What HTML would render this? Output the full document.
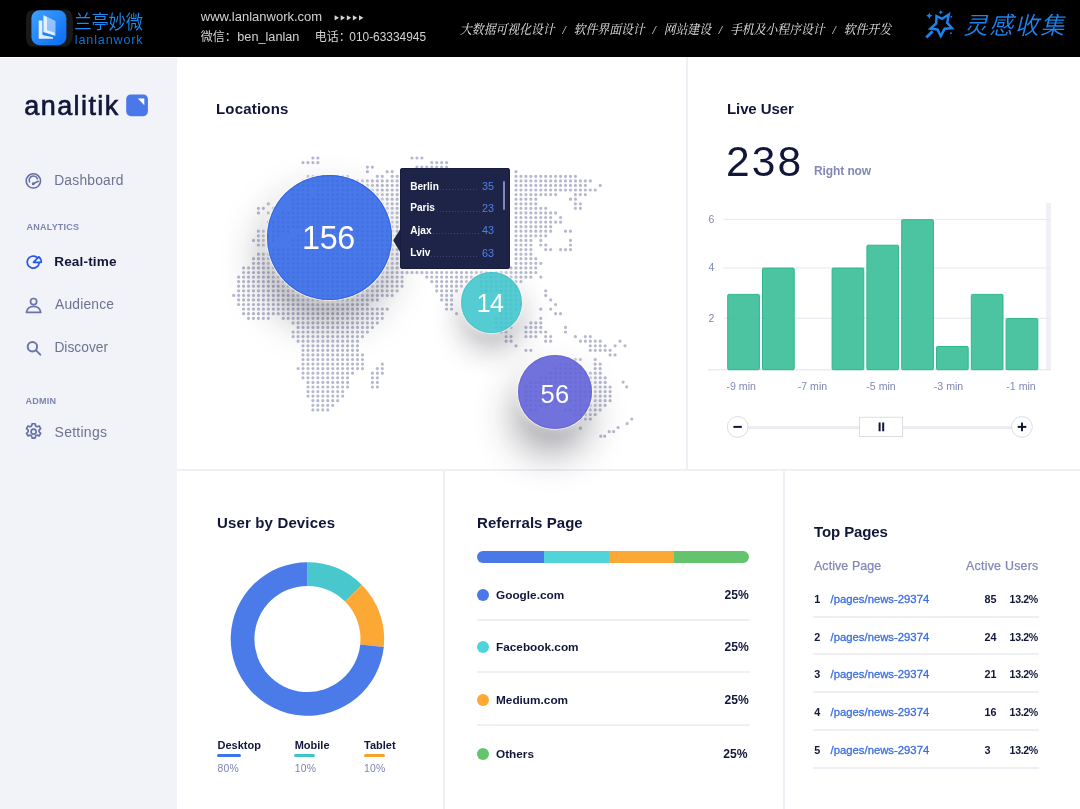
<!DOCTYPE html>
<html lang="en">
<head>
<meta charset="utf-8">
<title>analitik – Real-time</title>
<style>
*{box-sizing:border-box;margin:0;padding:0}
html,body{width:1080px;height:809px;overflow:hidden;background:#fff}
body{position:relative;font-family:"Liberation Sans","Noto Sans CJK SC",sans-serif;color:#12173a;-webkit-font-smoothing:antialiased}
.abs{position:absolute}
.t{position:absolute;white-space:nowrap;line-height:1}
/* header */
#hdr{position:absolute;left:0;top:0;width:1080px;height:57px;background:#000}
#hdr .t{color:#d2d3d6}
/* sidebar */
#side{position:absolute;left:0;top:58px;width:177px;height:751px;background:#f1f3f8}
.nav{color:#6e7391;font-size:13.8px}
.sec{color:#7c84b2;font-size:9px;font-weight:bold;letter-spacing:.22px}
/* dividers */
.ln{position:absolute;background:#eef0f6}
.h2{font-weight:bold;font-size:15px;color:#12173a;letter-spacing:-.1px}
</style>
</head>
<body>

<!-- ================= HEADER ================= -->
<div id="hdr">
  <svg class="abs" style="left:24px;top:4px" width="52" height="48" viewBox="24 4 52 48">
    <defs>
      <linearGradient id="lg1" x1="0" y1="0" x2="1" y2="1"><stop offset="0" stop-color="#3fa2ff"/><stop offset="1" stop-color="#0b6af0"/></linearGradient>
    </defs>
    <path d="M30 10.500 Q26 12 26 20 V36 Q26 45 31 46.500 H66 Q73 44 73 34 V22 Q73 11 67 9.600 Z" fill="#19191b"/>
    <rect x="31.400" y="10.200" width="35" height="35" rx="8" fill="url(#lg1)"/>
    <path d="M43.500 15 L55.500 21.100 L55.500 36.100 L43.500 31.900 Z" fill="#fff" opacity=".5"/>
    <path d="M38.700 20.500 L42.400 20.500 L42.400 35 L53 37.200 L53 38.800 L38.700 38.800 Z" fill="#fff" opacity=".88"/>
    <path d="M43.500 15.500 L47 17.200 L47 30.200 L54.500 32.600 L54.500 35.600 L43.500 32 Z" fill="#fff" opacity=".75"/>
  </svg>
  <div class="t" style="left:74.300px;top:13.500px;font-size:17.400px;color:#1c8cf5;letter-spacing:-.25px;font-weight:350;transform:scaleY(1.1);transform-origin:50% 50%">兰亭妙微</div>
  <div class="t" style="left:74.800px;top:34.300px;font-size:12.600px;color:#1272d4;letter-spacing:.85px">lanlanwork</div>

  <div class="t" style="left:200.8px;top:10.2px;font-size:13px">www.lanlanwork.com</div>
  <svg class="abs" style="left:330px;top:12px" width="40" height="12" viewBox="330 12 40 12" fill="#d4d4d4"><path d="M334.6 15.2 l4.4 2.6 l-4.4 2.6 z"/><path d="M340.7 15.2 l4.4 2.6 l-4.4 2.6 z"/><path d="M346.8 15.2 l4.4 2.6 l-4.4 2.6 z"/><path d="M352.9 15.2 l4.4 2.6 l-4.4 2.6 z"/><path d="M359.0 15.2 l4.4 2.6 l-4.4 2.6 z"/></svg>
  <div class="t" style="left:200.8px;top:31.1px;font-size:12px">微信：</div>
  <div class="t" style="left:237.3px;top:30.9px;font-size:12.7px">ben_lanlan</div>
  <div class="t" style="left:314.7px;top:31.1px;font-size:12px">电话：</div>
  <div class="t" style="left:349.3px;top:31.6px;font-size:11.9px">010-63334945</div>

  <div class="t" id="slogan" style="left:460.400px;top:22.700px;font-size:13.300px;font-style:italic;font-family:'Liberation Serif','Noto Serif CJK SC',serif;color:#e4e4e4;word-spacing:5.500px;transform:scaleX(.89);transform-origin:0 50%">大数据可视化设计 / 软件界面设计 / 网站建设 / 手机及小程序设计 / 软件开发</div>

  <svg class="abs" style="left:920px;top:6px" width="38" height="36" viewBox="920 6 38 36">
    <path d="M936.5 16 L942 18.8 L948.8 14.5 L947.2 22.8 L952 28.2 L944.6 28.8 L940.8 36 L937.6 29.6 L930.4 28.6 L936.2 23.4 Z" fill="none" stroke="#1a84f0" stroke-width="2.5" stroke-linejoin="miter"/>
    <path d="M932.6 31.2 L926.3 37.6" stroke="#1a84f0" stroke-width="2.8"/>
    <path d="M929.3 12.4 l1 2.3 l2.300 1 l-2.300 1 l-1 2.300 l-1 -2.300 l-2.300 -1 l2.300 -1 z" fill="#1a84f0"/>
    <path d="M940.8 10 l.7 1.500 l1.500 .7 l-1.500 .7 l-.7 1.500 l-.7 -1.500 l-1.500 -.7 l1.500 -.7 z" fill="#1a84f0"/>
    <circle cx="951.3" cy="16.8" r=".9" fill="#1a84f0"/><circle cx="951" cy="33.200" r=".9" fill="#1a84f0"/>
  </svg>
  <div class="t" style="left:963.5px;top:14px;font-size:24px;font-style:italic;color:#1a84f0;font-weight:350;letter-spacing:1.6px">灵感收集</div>
</div>

<!-- ================= SIDEBAR ================= -->
<div id="side"></div>
<div class="t" style="left:24.300px;top:92.700px;font-size:27px;color:#12173a;letter-spacing:1.42px;-webkit-text-stroke:.65px #12173a">analitik</div>
<svg class="abs" style="left:126px;top:94px" width="23" height="23" viewBox="0 0 23 23">
  <rect x=".2" y=".5" width="21.700" height="21.700" rx="4.600" fill="#4a78e8"/>
  <path d="M11.900 4.600 H18.300 V11.300 Z" fill="#fff"/>
</svg>

<!-- nav -->
<svg class="abs" style="left:24px;top:171px" width="20" height="20" viewBox="24 171 20 20" fill="none" stroke="#666fa5" stroke-width="1.600">
  <circle cx="33.350" cy="180.900" r="7.150"/>
  <path d="M29.500 181.800 A4 4 0 0 1 37.400 178.700" stroke-linecap="round"/>
  <path d="M33.300 183.700 L38.200 181.300" stroke-linecap="round"/>
  <circle cx="33.200" cy="183.750" r="1.500" fill="#666fa5" stroke="none"/>
</svg>
<div class="t nav" style="left:54.200px;top:173.900px;letter-spacing:.22px">Dashboard</div>

<div class="t sec" style="left:26.600px;top:223px">ANALYTICS</div>
<svg class="abs" style="left:24px;top:252px" width="20" height="20" viewBox="24 252 20 20" fill="none" stroke="#2458e6" stroke-width="1.700" stroke-linejoin="round" stroke-linecap="round">
  <path d="M36.900 257.300 A6.050 6.050 0 1 0 39.250 262.600"/>
  <path d="M33.500 262.300 L38.600 256.800 A6.600 6.600 0 0 1 41.300 262.300 Z"/>
</svg>
<div class="t nav" style="left:54.200px;top:255px;color:#12173a;font-weight:bold;font-size:13.600px;letter-spacing:.15px">Real-time</div>

<svg class="abs" style="left:24px;top:296px" width="20" height="20" viewBox="24 296 20 20" fill="none" stroke="#6b74a8" stroke-width="1.700" stroke-linejoin="round">
  <circle cx="33.600" cy="301.600" r="3.100"/>
  <path d="M26.400 312.300 C27.200 308 30 306.400 33.600 306.400 C37.200 306.400 40 308 40.800 312.300 Z"/>
</svg>
<div class="t nav" style="left:55px;top:297.800px;letter-spacing:.2px">Audience</div>

<svg class="abs" style="left:24px;top:338px" width="20" height="20" viewBox="24 338 20 20" fill="none" stroke="#6b74a8" stroke-width="2" stroke-linecap="round">
  <circle cx="32.400" cy="346.800" r="4.700"/>
  <path d="M36 350.400 L40.300 354.600"/>
</svg>
<div class="t nav" style="left:54.400px;top:340.500px">Discover</div>

<div class="t sec" style="left:25.600px;top:397.300px">ADMIN</div>
<svg class="abs" style="left:23px;top:421px" width="22" height="22" viewBox="0 0 22 22" fill="none" stroke="#666fa5" stroke-width="1.700" stroke-linejoin="round">
  <g transform="translate(.6 .7) scale(.8333)">
  <circle cx="12" cy="12" r="3" stroke-width="2"/>
  <path stroke-width="2" d="M10.200 2.500 h3.600 l.6 2.700 l1.700 .9 l2.600 -.9 l1.800 3.100 l-2 1.900 v1.800 l2 1.900 l-1.800 3.100 l-2.600 -.9 l-1.700 .9 l-.6 2.700 h-3.600 l-.6 -2.700 l-1.700 -.9 l-2.600 .9 l-1.800 -3.100 l2 -1.900 v-1.800 l-2 -1.900 l1.800 -3.100 l2.600 .9 l1.700 -.9 z"/>
  </g>
</svg>
<div class="t nav" style="left:54.600px;top:425.300px;font-size:14px;letter-spacing:.25px">Settings</div>

<!-- ================= DIVIDERS ================= -->
<div class="ln" style="left:686px;top:57px;width:2px;height:413px"></div>
<div class="ln" style="left:177px;top:469px;width:903px;height:2px"></div>
<div class="ln" style="left:443px;top:470px;width:2px;height:339px"></div>
<div class="ln" style="left:783px;top:470px;width:2px;height:339px"></div>

<!-- ================= LOCATIONS ================= -->
<div class="t h2" style="left:216px;top:101px;letter-spacing:.2px">Locations</div>
<!--MAPSTART-->
<svg class="abs" style="left:180px;top:140px" width="506" height="328" viewBox="180 140 506 328">
<path d="M312.9 158.0h4.96M412.0 158.0h9.92M303.0 162.6h14.87M431.8 162.6h14.87M367.4 167.1h4.96M416.9 167.1h29.73M367.4 171.7h0.01M387.2 171.7h4.96M516.0 171.7h0.01M308.0 176.3h39.63M377.3 176.3h4.96M392.2 176.3h4.96M516.0 176.3h59.45M303.0 180.9h94.12M516.0 180.9h74.31M298.1 185.4h99.07M516.0 185.4h69.35M600.2 185.4h0.01M293.1 190.0h14.87M317.9 190.0h79.26M516.0 190.0h79.26M293.1 194.6h14.87M317.9 194.6h79.26M516.0 194.6h39.63M575.4 194.6h9.92M293.1 199.2h104.02M516.0 199.2h19.82M570.5 199.2h4.96M268.3 203.8h0.01M293.1 203.8h104.02M516.0 203.8h19.82M575.4 203.8h4.96M258.4 208.3h4.96M273.3 208.3h0.01M293.1 208.3h104.02M516.0 208.3h29.73M575.4 208.3h4.96M258.4 212.9h0.01M268.3 212.9h0.01M283.2 212.9h113.93M516.0 212.9h39.63M278.2 217.5h118.88M516.0 217.5h34.68M560.6 217.5h0.01M268.3 222.1h128.79M516.0 222.1h44.59M273.3 226.7h123.84M516.0 226.7h34.68M258.4 231.2h4.96M273.3 231.2h14.87M303.0 231.2h94.12M516.0 231.2h34.68M565.5 231.2h4.96M258.4 235.8h19.82M298.1 235.8h99.07M516.0 235.8h29.73M253.5 240.4h9.92M273.3 240.4h0.01M293.1 240.4h104.02M516.0 240.4h14.87M540.8 240.4h0.01M570.5 240.4h0.01M258.4 245.0h4.96M293.1 245.0h104.02M516.0 245.0h14.87M540.8 245.0h4.96M570.5 245.0h0.01M273.3 249.6h123.84M516.0 249.6h14.87M545.7 249.6h4.96M560.6 249.6h9.92M258.4 254.2h138.69M516.0 254.2h14.87M253.5 258.7h143.65M516.0 258.7h19.82M253.5 263.3h143.65M516.0 263.3h24.78M243.6 267.9h153.55M511.0 267.9h24.78M243.6 272.5h292.24M238.6 277.1h163.46M426.8 277.1h44.59M481.3 277.1h49.54M540.8 277.1h0.01M238.6 281.6h163.46M431.8 281.6h34.68M481.3 281.6h39.63M238.6 286.2h163.46M436.7 286.2h24.78M481.3 286.2h34.68M238.6 290.8h158.51M436.7 290.8h19.82M481.3 290.8h34.68M545.7 290.8h0.01M233.7 295.4h158.51M441.7 295.4h9.92M506.1 295.4h9.92M545.7 295.4h0.01M238.6 299.9h138.69M441.7 299.9h9.92M506.1 299.9h9.92M550.7 299.9h0.01M238.6 304.5h128.79M446.6 304.5h4.96M506.1 304.5h14.87M555.6 304.5h0.01M243.6 309.1h143.65M446.6 309.1h4.96M506.1 309.1h9.92M540.8 309.1h0.01M550.7 309.1h0.01M243.6 313.7h138.69M456.6 313.7h0.01M501.1 313.7h9.92M555.6 313.7h4.96M248.5 318.3h19.82M283.2 318.3h99.07M496.2 318.3h14.87M540.8 318.3h0.01M293.1 322.9h84.21M496.2 322.9h14.87M530.9 322.9h9.92M298.1 327.4h74.31M496.2 327.4h14.87M525.9 327.4h14.87M565.5 327.4h0.01M293.1 332.0h74.31M501.1 332.0h4.96M525.9 332.0h19.82M565.5 332.0h0.01M293.1 336.6h69.35M506.1 336.6h4.96M525.9 336.6h9.92M545.7 336.6h4.96M575.4 336.6h0.01M585.3 336.6h4.96M298.1 341.2h59.45M506.1 341.2h4.96M545.7 341.2h4.96M580.4 341.2h19.82M620.0 341.2h0.01M303.0 345.8h54.49M516.0 345.8h0.01M590.3 345.8h14.87M615.1 345.8h0.01M625.0 345.8h0.01M303.0 350.3h54.49M525.9 350.3h4.96M590.3 350.3h19.82M303.0 354.9h59.45M610.1 354.9h4.96M303.0 359.5h59.45M575.4 359.5h4.96M595.2 359.5h0.01M303.0 364.1h59.45M382.3 364.1h0.01M560.6 364.1h14.87M595.2 364.1h4.96M298.1 368.6h64.40M377.3 368.6h4.96M555.6 368.6h24.78M595.2 368.6h4.96M303.0 373.2h49.54M372.4 373.2h9.92M550.7 373.2h49.54M303.0 377.8h44.59M372.4 377.8h4.96M540.8 377.8h64.40M308.0 382.4h39.63M372.4 382.4h4.96M530.9 382.4h74.31M308.0 387.0h39.63M372.4 387.0h4.96M525.9 387.0h84.21M308.0 391.6h34.68M525.9 391.6h84.21M308.0 396.1h34.68M525.9 396.1h84.21M312.9 400.7h24.78M525.9 400.7h54.49M595.2 400.7h14.87M312.9 405.3h19.82M525.9 405.3h19.82M575.4 405.3h29.73M312.9 409.9h14.87M530.9 409.9h4.96M565.5 409.9h34.68M575.4 414.5h19.82M580.4 419.0h9.92M580.4 428.2h0.01M631.8 419.0h.01M627.2 423.6h.01M618.1 427.5h.01M609.2 431.6h.01M613.6 431.6h.01M600.8 436.2h.01M604.7 436.2h.01M623.1 382.1h.01M626.7 386.8h.01" fill="none" stroke="#b5b8cf" stroke-width="3.2" stroke-linecap="round" stroke-dasharray="0 4.953"/>
</svg>
<div class="abs" style="left:267.2px;top:175.2px;width:124.6px;height:124.6px;border-radius:50%;background:rgba(53,105,231,.9);box-shadow:0 0 0 1px rgba(255,250,225,.75), 0 0 9px 3px rgba(255,255,255,.5), -4px 22px 40px rgba(30,30,45,.38), inset 0 0 0 1px rgba(35,85,225,.55);color:#fff;font-size:32.3px;line-height:127.4px;text-align:center;letter-spacing:-0.3px;text-indent:-1.9px;overflow:hidden">156</div>
<div class="abs" style="left:460.5px;top:271.6px;width:61.6px;height:61.6px;border-radius:50%;background:rgba(66,198,205,.9);box-shadow:0 0 0 1px rgba(255,246,235,.75), 0 0 8px 2px rgba(255,255,255,.45), 0 16px 30px rgba(30,30,45,.33), inset 0 0 0 1px rgba(60,190,198,.5);color:#fff;font-size:25px;line-height:63.6px;text-align:center;letter-spacing:-0.6px;text-indent:-2.4px;overflow:hidden">14</div>
<div class="abs" style="left:517.9px;top:355.0px;width:73.8px;height:73.8px;border-radius:50%;background:rgba(100,100,218,.91);box-shadow:0 0 0 1px rgba(255,250,225,.75), 0 0 8px 2px rgba(255,255,255,.45), -4px 24px 38px rgba(30,30,45,.42), inset 0 0 0 1px rgba(92,92,215,.55);color:#fff;font-size:25.5px;line-height:78.6px;text-align:center;letter-spacing:0.3px;text-indent:0.3px;overflow:hidden">56</div>
<svg class="abs" style="left:390px;top:225px" width="12" height="30" viewBox="390 225 12 30"><path d="M401.5 227.3 L393.7 239.4 Q393.1 240.3 393.7 241.2 L401.5 254.3 Z" fill="#1e2447"/></svg>
<div class="abs" style="left:400px;top:168.200px;width:110.200px;height:101px;border-radius:3px;background:#1e2447;box-shadow:inset 0 0 0 1px #181c3d"></div>
<div class="t" style="left:410.2px;top:181.8px;font-size:10.1px;font-weight:bold;color:#fff">Berlin</div>
<div class="abs" style="left:440.3px;top:189.3px;width:39.2px;height:1px;background:repeating-linear-gradient(90deg,#3d446d 0 1px,transparent 1px 3px)"></div>
<div class="t" style="left:482px;top:181.3px;font-size:10.8px;color:#4f80e8">35</div>
<div class="t" style="left:410.2px;top:203.0px;font-size:10.1px;font-weight:bold;color:#fff">Paris</div>
<div class="abs" style="left:436.5px;top:210.5px;width:43.0px;height:1px;background:repeating-linear-gradient(90deg,#3d446d 0 1px,transparent 1px 3px)"></div>
<div class="t" style="left:482px;top:202.5px;font-size:10.8px;color:#4f80e8">23</div>
<div class="t" style="left:410.2px;top:225.5px;font-size:10.1px;font-weight:bold;color:#fff">Ajax</div>
<div class="abs" style="left:433.2px;top:233.0px;width:46.3px;height:1px;background:repeating-linear-gradient(90deg,#3d446d 0 1px,transparent 1px 3px)"></div>
<div class="t" style="left:482px;top:225.0px;font-size:10.8px;color:#4f80e8">43</div>
<div class="t" style="left:410.2px;top:248.1px;font-size:10.1px;font-weight:bold;color:#fff">Lviv</div>
<div class="abs" style="left:431.1px;top:255.6px;width:48.4px;height:1px;background:repeating-linear-gradient(90deg,#3d446d 0 1px,transparent 1px 3px)"></div>
<div class="t" style="left:482px;top:247.6px;font-size:10.8px;color:#4f80e8">63</div>
<div class="abs" style="left:502.700px;top:180.600px;width:2.400px;height:29px;border-radius:1.200px;background:#8188bd"></div>
<!--MAPEND-->

<!-- ================= LIVE USER ================= -->
<div class="t h2" style="left:727px;top:101px">Live User</div>
<div class="t" style="left:726px;top:141px;font-size:42.5px;color:#12173a;letter-spacing:2.1px">238</div>
<div class="t" style="left:814px;top:164.5px;font-size:12px;font-weight:bold;color:#8288b5;letter-spacing:-.1px">Right now</div>
<svg class="abs" style="left:700px;top:195px" width="380" height="260" viewBox="700 195 380 260">
<rect x="1046" y="203" width="5" height="167" fill="#f0f0f6"/>
<rect x="723.5" y="218.9" width="327.5" height="1.2" fill="#e9ebf1"/>
<text x="708.5" y="222.9" font-size="10.5" fill="#8288b5">6</text>
<rect x="723.5" y="267.3" width="327.5" height="1.2" fill="#e9ebf1"/>
<text x="708.5" y="271.3" font-size="10.5" fill="#8288b5">4</text>
<rect x="723.5" y="317.7" width="327.5" height="1.2" fill="#e9ebf1"/>
<text x="708.5" y="321.7" font-size="10.5" fill="#8288b5">2</text>
<rect x="708" y="369.2" width="343" height="1.2" fill="#e6e7ec"/>
<rect x="727.7" y="294.4" width="31.7" height="75.3" rx="1" fill="#2bb98f" fill-opacity=".84" stroke="#2db78c" stroke-width="1"/>
<rect x="762.5" y="268.1" width="31.7" height="101.6" rx="1" fill="#2bb98f" fill-opacity=".84" stroke="#2db78c" stroke-width="1"/>
<rect x="832.1" y="268.1" width="31.7" height="101.6" rx="1" fill="#2bb98f" fill-opacity=".84" stroke="#2db78c" stroke-width="1"/>
<rect x="866.9" y="245.2" width="31.7" height="124.5" rx="1" fill="#2bb98f" fill-opacity=".84" stroke="#2db78c" stroke-width="1"/>
<rect x="901.7" y="219.7" width="31.7" height="150.0" rx="1" fill="#2bb98f" fill-opacity=".84" stroke="#2db78c" stroke-width="1"/>
<rect x="936.5" y="346.5" width="31.7" height="23.2" rx="1" fill="#2bb98f" fill-opacity=".84" stroke="#2db78c" stroke-width="1"/>
<rect x="971.3" y="294.4" width="31.7" height="75.3" rx="1" fill="#2bb98f" fill-opacity=".84" stroke="#2db78c" stroke-width="1"/>
<rect x="1006.1" y="318.6" width="31.7" height="51.1" rx="1" fill="#2bb98f" fill-opacity=".84" stroke="#2db78c" stroke-width="1"/>
<text x="726.5" y="390" font-size="10.6" fill="#8288b5">-9 min</text>
<text x="797.7" y="390" font-size="10.6" fill="#8288b5">-7 min</text>
<text x="866.3" y="390" font-size="10.6" fill="#8288b5">-5 min</text>
<text x="933.8" y="390" font-size="10.6" fill="#8288b5">-3 min</text>
<text x="1006.3" y="390" font-size="10.6" fill="#8288b5">-1 min</text>
<rect x="748" y="426" width="264" height="3.2" fill="#ededf1"/>
<circle cx="737.7" cy="426.9" r="10.4" fill="#fff" stroke="#dcdde3" stroke-width="1"/>
<rect x="733.4" y="425.9" width="8.4" height="2" fill="#12173a"/>
<circle cx="1021.9" cy="426.9" r="10.4" fill="#fff" stroke="#dcdde3" stroke-width="1"/>
<rect x="1017.7" y="425.9" width="8.6" height="2" fill="#12173a"/><rect x="1021" y="422.6" width="2" height="8.6" fill="#12173a"/>
<rect x="859.5" y="417.3" width="43" height="19.2" fill="#fff" stroke="#dcdde3" stroke-width="1"/>
<rect x="878.6" y="422.5" width="2" height="8.8" fill="#12173a"/><rect x="882.2" y="422.5" width="2" height="8.8" fill="#12173a"/>
</svg>

<!-- ================= DEVICES ================= -->
<div class="t h2" style="left:217px;top:515px;letter-spacing:.15px">User by Devices</div>
<svg class="abs" style="left:200px;top:540px" width="230" height="200" viewBox="200 540 230 200">
<path d="M307.45 562.25 A76.75 76.75 0 0 1 361.91 584.92 L345.09 601.62 A53.05 53.05 0 0 0 307.45 585.95 Z" fill="#48c8cd"/>
<path d="M361.91 584.92 A76.75 76.75 0 0 1 383.79 646.89 L360.22 644.45 A53.05 53.05 0 0 0 345.09 601.62 Z" fill="#fba834"/>
<path d="M383.79 646.89 A76.75 76.75 0 1 1 307.45 562.25 L307.45 585.95 A53.05 53.05 0 1 0 360.22 644.45 Z" fill="#4a7be8"/>
</svg>
<div class="t" style="left:217.5px;top:739.5px;font-size:11px;font-weight:bold;color:#12173a">Desktop</div><div class="abs" style="left:217.1px;top:754.4px;width:23.5px;height:3px;border-radius:2px;background:#3f73ea"></div><div class="t" style="left:217.5px;top:764.3px;font-size:10.4px;color:#7c84b2;letter-spacing:.2px">80%</div>
<div class="t" style="left:294.7px;top:739.5px;font-size:11px;font-weight:bold;color:#12173a">Mobile</div><div class="abs" style="left:294.3px;top:754.4px;width:21px;height:3px;border-radius:2px;background:#3ec4c9"></div><div class="t" style="left:294.7px;top:764.3px;font-size:10.4px;color:#7c84b2;letter-spacing:.2px">10%</div>
<div class="t" style="left:364px;top:739.5px;font-size:11px;font-weight:bold;color:#12173a">Tablet</div><div class="abs" style="left:363.6px;top:754.4px;width:21px;height:3px;border-radius:2px;background:#fba128"></div><div class="t" style="left:364px;top:764.3px;font-size:10.4px;color:#7c84b2;letter-spacing:.2px">10%</div>

<!-- ================= REFERRALS ================= -->
<div class="t h2" style="left:477px;top:515px;letter-spacing:.05px">Referrals Page</div>
<div class="abs" style="left:477.2px;top:551px;width:272.3px;height:11.8px;border-radius:6px;overflow:hidden;display:flex"><div style="width:67.2px;background:#4a78e6"></div><div style="width:64.6px;background:#50d4da"></div><div style="width:64.9px;background:#fba834"></div><div style="flex:1;background:#63c46d"></div></div>
<div class="abs" style="left:476.9px;top:589.1px;width:12px;height:12px;border-radius:50%;background:#4a78e6"></div>
<div class="t" style="left:496px;top:589.7px;font-size:11.8px;font-weight:bold;color:#12173a">Google.com</div>
<div class="t" style="left:724.6px;top:589.0px;font-size:12.1px;font-weight:bold;color:#12173a">25%</div>
<div class="abs" style="left:476.9px;top:640.6px;width:12px;height:12px;border-radius:50%;background:#50d4da"></div>
<div class="t" style="left:496px;top:641.8px;font-size:11.8px;font-weight:bold;color:#12173a">Facebook.com</div>
<div class="t" style="left:724.6px;top:640.5px;font-size:12.1px;font-weight:bold;color:#12173a">25%</div>
<div class="abs" style="left:476.9px;top:693.7px;width:12px;height:12px;border-radius:50%;background:#fba834"></div>
<div class="t" style="left:496px;top:694.8px;font-size:11.8px;font-weight:bold;color:#12173a">Medium.com</div>
<div class="t" style="left:724.6px;top:693.6px;font-size:12.1px;font-weight:bold;color:#12173a">25%</div>
<div class="abs" style="left:476.9px;top:747.9px;width:12px;height:12px;border-radius:50%;background:#63c46d"></div>
<div class="t" style="left:496px;top:748.5px;font-size:11.8px;font-weight:bold;color:#12173a">Others</div>
<div class="t" style="left:723.3px;top:747.8px;font-size:12.1px;font-weight:bold;color:#12173a">25%</div>
<div class="ln" style="left:477px;top:619px;width:272.5px;height:2px;background:#eff0f6"></div>
<div class="ln" style="left:477px;top:671px;width:272.5px;height:2px;background:#eff0f6"></div>
<div class="ln" style="left:477px;top:724px;width:272.5px;height:2px;background:#eff0f6"></div>

<!-- ================= TOP PAGES ================= -->
<div class="t h2" style="left:814px;top:524px">Top Pages</div>
<div class="t" style="left:814px;top:559.5px;font-size:12.4px;color:#8288b5;-webkit-text-stroke:.25px #8288b5;letter-spacing:.1px">Active Page</div>
<div class="t" style="left:966px;top:559.5px;font-size:12.4px;color:#8288b5;-webkit-text-stroke:.25px #8288b5;letter-spacing:.25px">Active Users</div>
<div class="t" style="left:814.2px;top:594.2px;font-size:10.8px;font-weight:bold;color:#12173a">1</div>
<div class="t" style="left:830.6px;top:594.2px;font-size:11.3px;color:#3a6de0;-webkit-text-stroke:.3px #3a6de0">/pages/news-29374</div>
<div class="t" style="left:984.4px;top:594.2px;font-size:10.8px;font-weight:bold;color:#12173a">85</div>
<div class="t" style="left:1009.6px;top:594.2px;font-size:10.6px;font-weight:bold;color:#12173a;letter-spacing:-.35px">13.2%</div>
<div class="t" style="left:814.2px;top:631.5px;font-size:10.8px;font-weight:bold;color:#12173a">2</div>
<div class="t" style="left:830.6px;top:631.5px;font-size:11.3px;color:#3a6de0;-webkit-text-stroke:.3px #3a6de0">/pages/news-29374</div>
<div class="t" style="left:984.4px;top:631.5px;font-size:10.8px;font-weight:bold;color:#12173a">24</div>
<div class="t" style="left:1009.6px;top:631.5px;font-size:10.6px;font-weight:bold;color:#12173a;letter-spacing:-.35px">13.2%</div>
<div class="t" style="left:814.2px;top:669.4px;font-size:10.8px;font-weight:bold;color:#12173a">3</div>
<div class="t" style="left:830.6px;top:669.4px;font-size:11.3px;color:#3a6de0;-webkit-text-stroke:.3px #3a6de0">/pages/news-29374</div>
<div class="t" style="left:984.4px;top:669.4px;font-size:10.8px;font-weight:bold;color:#12173a">21</div>
<div class="t" style="left:1009.6px;top:669.4px;font-size:10.6px;font-weight:bold;color:#12173a;letter-spacing:-.35px">13.2%</div>
<div class="t" style="left:814.2px;top:707.2px;font-size:10.8px;font-weight:bold;color:#12173a">4</div>
<div class="t" style="left:830.6px;top:707.2px;font-size:11.3px;color:#3a6de0;-webkit-text-stroke:.3px #3a6de0">/pages/news-29374</div>
<div class="t" style="left:984.4px;top:707.2px;font-size:10.8px;font-weight:bold;color:#12173a">16</div>
<div class="t" style="left:1009.6px;top:707.2px;font-size:10.6px;font-weight:bold;color:#12173a;letter-spacing:-.35px">13.2%</div>
<div class="t" style="left:814.2px;top:745.0px;font-size:10.8px;font-weight:bold;color:#12173a">5</div>
<div class="t" style="left:830.6px;top:745.0px;font-size:11.3px;color:#3a6de0;-webkit-text-stroke:.3px #3a6de0">/pages/news-29374</div>
<div class="t" style="left:984.4px;top:745.0px;font-size:10.8px;font-weight:bold;color:#12173a">3</div>
<div class="t" style="left:1009.6px;top:745.0px;font-size:10.6px;font-weight:bold;color:#12173a;letter-spacing:-.35px">13.2%</div>
<div class="ln" style="left:812.5px;top:616px;width:226.5px;height:2px;background:#eff0f6"></div>
<div class="ln" style="left:812.5px;top:653px;width:226.5px;height:2px;background:#eff0f6"></div>
<div class="ln" style="left:812.5px;top:691px;width:226.5px;height:2px;background:#eff0f6"></div>
<div class="ln" style="left:812.5px;top:729px;width:226.5px;height:2px;background:#eff0f6"></div>
<div class="ln" style="left:812.5px;top:767px;width:226.5px;height:2px;background:#eff0f6"></div>

</body>
</html>
